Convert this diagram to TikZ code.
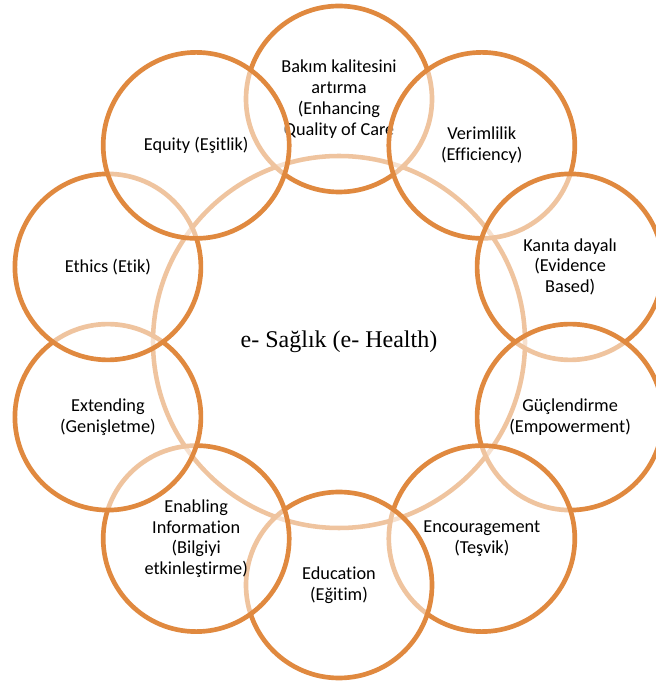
\documentclass[tikz,border=0pt]{standalone}
\usepackage{fontspec}
\setmainfont{Carlito}[Ligatures=NoCommon]
\newfontfamily\hubfont{Liberation Serif}
\definecolor{ringorange}{RGB}{224,137,63}

\begin{document}
\begin{tikzpicture}[x=0.75pt,y=0.75pt,
  hub/.style={circle,draw=ringorange,line width=3.4pt,fill=white,
              minimum size=279pt,inner sep=0pt,
              font=\hubfont\fontsize{18}{21}\selectfont},
  ring/.style={circle,draw=ringorange,line width=3.5pt,fill=white,
               fill opacity=0.5,text opacity=1,minimum size=139.5pt,
               inner sep=0pt,align=center,
               font=\fontsize{13.7}{15.6}\selectfont}]
\useasboundingbox (0,0) rectangle (656,682);
\clip (0,0) rectangle (656,682);
\node[hub] (ehealth) at (339,340) {e- Sağlık (e- Health)};
% ring, clockwise from the top, each one over the one before
\node[ring] (care) at (339,583) {Bakım kalitesini\\artırma\\(Enhancing\\Quality of Care};
\node[ring] (eff)  at (481.8,536.6) {Verimlilik\\(Efficiency)};
\node[ring] (evid) at (570.1,415.1) {Kanıta dayalı\\(Evidence\\Based)};
\node[ring] (emp)  at (570.1,264.9) {Güçlendirme\\(Empowerment)};
\node[ring] (enc)  at (481.8,143.4) {Encouragement\\(Teşvik)};
\node[ring] (edu)  at (339,97) {Education\\(Eğitim)};
\node[ring] (info) at (196.2,143.4) {Enabling\\Information\\(Bilgiyi\\etkinleştirme)};
\node[ring] (ext)  at (107.9,264.9) {Extending\\(Genişletme)};
\node[ring] (eth)  at (107.9,415.1) {Ethics (Etik)};
\node[ring] (equ)  at (196.2,536.6) {Equity (Eşitlik)};
\end{tikzpicture}
\end{document}
